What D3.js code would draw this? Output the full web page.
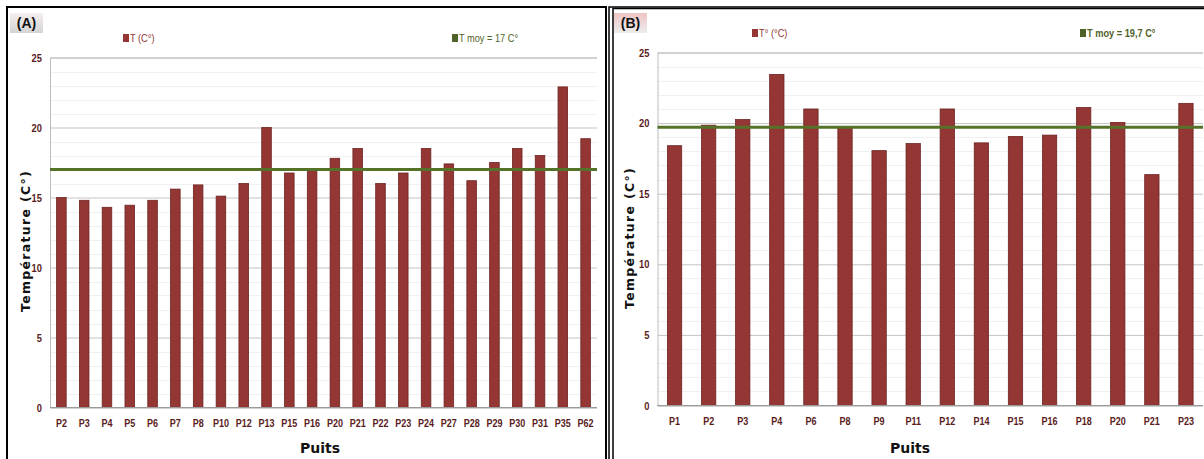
<!DOCTYPE html>
<html>
<head>
<meta charset="utf-8">
<script src="https://cdn.jsdelivr.net/npm/d3@7"></script>
<style>
  html, body { margin: 0; padding: 0; background: #fff; }
  svg { display: block; }
  .tick-label { font-family: "Liberation Sans Narrow", "Liberation Sans", sans-serif; font-weight: bold; font-size: 11px; fill: #5a1c1c; }
  .axis-title { font-family: "DejaVu Sans", "Liberation Sans", sans-serif; font-weight: bold; font-size: 12.5px; fill: #111; }
  .legend-text { font-family: "Liberation Sans Narrow", "Liberation Sans", sans-serif; font-size: 10.5px; }
  .panel-tag { font-family: "Liberation Sans Narrow", "Liberation Sans", sans-serif; font-weight: bold; font-size: 14px; fill: #111; }
</style>
</head>
<body>
<svg id="chart" width="1204" height="459"></svg>
<script>
// Panel A: well temperatures
const wellsA = ["P2","P3","P4","P5","P6","P7","P8","P10","P12","P13","P15","P16",
                "P20","P21","P22","P23","P24","P27","P28","P29","P30","P31","P35","P62"];
const tempA = [15.0,14.8,14.3,14.45,14.8,15.6,15.9,15.1,16.0,20.0,16.75,17.05,
               17.8,18.5,16.0,16.75,18.5,17.4,16.2,17.5,18.5,18.0,22.9,19.2];
const meanA = 17;

// Panel B: well temperatures
const wellsB = ["P1","P2","P3","P4","P6","P8","P9","P11","P12","P14","P15","P16",
                "P18","P20","P21","P23"];
const tempB = [18.4,19.85,20.25,23.45,21.0,19.7,18.05,18.55,21.0,18.6,19.05,19.15,
               21.1,20.05,16.35,21.4];
const meanB = 19.7;

const yTicks = [0, 5, 10, 15, 20, 25];

const BAR = "#943634", BAR_EDGE = "#6d2321", MEAN = "#557328";

const svg = d3.select("#chart");

const defs = svg.append("defs");
const gA = defs.append("linearGradient").attr("id", "tagA").attr("x1", 0).attr("y1", 0).attr("x2", 0).attr("y2", 1);
gA.append("stop").attr("offset", "0%").attr("stop-color", "#f6eeee");
gA.append("stop").attr("offset", "100%").attr("stop-color", "#d4d4d4");
const gB = defs.append("linearGradient").attr("id", "tagB").attr("x1", 0).attr("y1", 0).attr("x2", 0).attr("y2", 1);
gB.append("stop").attr("offset", "0%").attr("stop-color", "#efc4c4");
gB.append("stop").attr("offset", "100%").attr("stop-color", "#ececec");

// narrow the sans-serif labels a little horizontally
function condense(sel, k) {
  sel.each(function () {
    const t = d3.select(this);
    const xx = +t.attr("x") || 0;
    t.attr("transform", `translate(${xx},0) scale(${k},1) translate(${-xx},0)`);
  });
}

function drawPanel(p) {
  const g = svg.append("g");

  // outer frame(s)
  p.frames.forEach(f => {
    g.append("rect").attr("x", f.x).attr("y", f.y).attr("width", f.w).attr("height", f.h)
      .attr("fill", "none").attr("stroke", "#000").attr("stroke-width", f.sw);
  });

  const x = d3.scaleBand().domain(p.wells).range([p.left, p.right]).paddingInner(0.58).paddingOuter(0.29);
  const y = d3.scaleLinear().domain([0, 25]).range([p.bottom, p.top]);

  // minor gridlines every unit
  g.append("g").selectAll("line").data(d3.range(1, 25).filter(v => v % 5 !== 0)).join("line")
    .attr("x1", p.left).attr("x2", p.right)
    .attr("y1", d => Math.round(y(d)) + 0.5).attr("y2", d => Math.round(y(d)) + 0.5)
    .attr("stroke", "#f0f0f0").attr("stroke-width", 1);

  // major gridlines + y tick labels via axis
  const yAxis = d3.axisLeft(y).tickValues(yTicks).tickSize(-(p.right - p.left)).tickPadding(8);
  const ya = g.append("g").attr("transform", `translate(${p.left},0)`).call(yAxis);
  ya.select(".domain").attr("stroke", "#bdbdbd");
  ya.selectAll(".tick line").attr("stroke", "#c4c4c4");
  ya.selectAll(".tick text").attr("class", "tick-label").attr("fill", null).call(condense, 0.85);

  // bars
  g.append("g").selectAll("rect").data(p.temps).join("rect")
    .attr("x", (d, i) => x(p.wells[i]))
    .attr("width", x.bandwidth())
    .attr("y", d => y(d))
    .attr("height", d => y(0) - y(d))
    .attr("fill", BAR).attr("stroke", BAR_EDGE).attr("stroke-width", 0.8);

  // baseline
  g.append("line").attr("x1", p.left).attr("x2", p.right)
    .attr("y1", y(0)).attr("y2", y(0)).attr("stroke", "#9a9a9a").attr("stroke-width", 1.2);

  // x tick labels
  const xAxis = d3.axisBottom(x).tickSize(0).tickPadding(12);
  const xa = g.append("g").attr("transform", `translate(0,${p.bottom})`).call(xAxis);
  xa.select(".domain").remove();
  xa.selectAll(".tick text").attr("class", "tick-label").attr("fill", null).call(condense, 0.82);

  // mean line
  g.append("line").attr("x1", p.left).attr("x2", p.right)
    .attr("y1", y(p.mean)).attr("y2", y(p.mean))
    .attr("stroke", MEAN).attr("stroke-width", 3);

  // axis titles
  g.append("text").attr("class", "axis-title")
    .attr("transform", `translate(${p.yTitleX},${p.yTitleY}) rotate(-90)`)
    .attr("text-anchor", "middle").attr("letter-spacing", "1.3px")
    .text("Température (C°)");
  g.append("text").attr("class", "axis-title").attr("x", p.xTitleX).attr("y", 453)
    .attr("text-anchor", "middle").style("font-size", "14px")
    .text("Puits");

  // legend
  p.legend.forEach(l => {
    g.append("rect").attr("x", l.x).attr("y", l.y - 8).attr("width", 6).attr("height", 8).attr("fill", l.color);
    g.append("text").attr("class", "legend-text").attr("x", l.x + 7).attr("y", l.y)
      .attr("fill", l.color).style("font-weight", l.bold ? "bold" : "normal").text(l.text)
      .call(condense, 0.88);
  });

  // panel tag
  g.append("rect").attr("x", p.tag.x).attr("y", 13).attr("width", 33).attr("height", 20)
    .attr("fill", `url(#${p.tag.grad})`);
  g.append("text").attr("class", "panel-tag").attr("x", p.tag.x + 16.5).attr("y", 28)
    .attr("text-anchor", "middle").text(p.tag.text);
}

drawPanel({
  wells: wellsA, temps: tempA, mean: meanA,
  left: 50, right: 597, top: 57.5, bottom: 407.5,
  frames: [{ x: 7, y: 7, w: 599, h: 460, sw: 2 }],
  yTitleX: 30, yTitleY: 241, xTitleX: 320,
  legend: [
    { x: 123, y: 42, color: BAR, text: "T (C°)" },
    { x: 452, y: 42, color: "#4f6228", text: "T moy = 17 C°" }
  ],
  tag: { x: 10, text: "(A)", grad: "tagA" }
});

drawPanel({
  wells: wellsB, temps: tempB, mean: meanB,
  left: 657.5, right: 1203, top: 52.5, bottom: 405.5,
  frames: [{ x: 609, y: 7, w: 600, h: 460, sw: 1.5 }, { x: 613, y: 8.5, w: 600, h: 460, sw: 1.5 }],
  yTitleX: 634, yTitleY: 238, xTitleX: 910,
  legend: [
    { x: 752, y: 37, color: BAR, text: "T° (°C)" },
    { x: 1080, y: 37, color: "#4f6228", text: "T moy = 19,7 C°", bold: true }
  ],
  tag: { x: 614, text: "(B)", grad: "tagB" }
});
</script>
</body>
</html>
